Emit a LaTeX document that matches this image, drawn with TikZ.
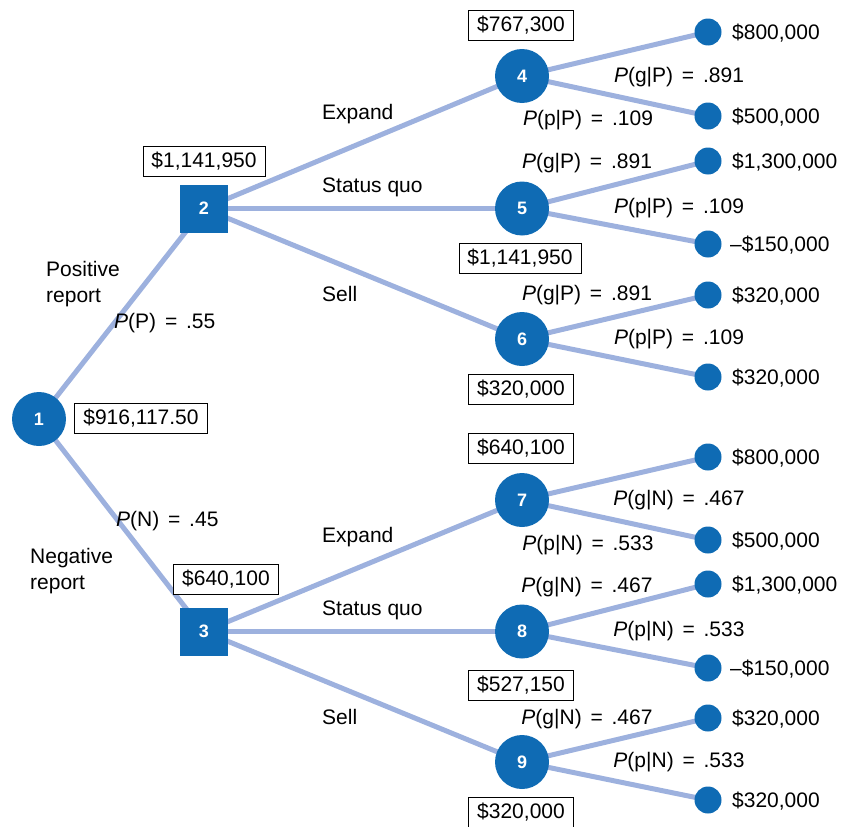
\documentclass[tikz,border=0pt]{standalone}
\usepackage{fontspec}
\setmainfont{Liberation Sans}
\usetikzlibrary{backgrounds}
\definecolor{edgeblue}{HTML}{9DB1DE}
\definecolor{nodeblue}{HTML}{0F6BB4}
\newcommand{\eqsp}{\hspace{0.42em}=\hspace{0.42em}}
\begin{document}
\begin{tikzpicture}[x=1pt,y=-1pt,
  font=\fontsize{21}{26}\selectfont,
  chance/.style={circle, fill=nodeblue, minimum size=54pt, inner sep=0pt, text=white, font=\fontsize{18}{20}\selectfont\bfseries},
  decision/.style={rectangle, fill=nodeblue, minimum size=48pt, inner sep=0pt, text=white, font=\fontsize{18}{20}\selectfont\bfseries},
  leaf/.style={circle, fill=nodeblue, minimum size=27pt, inner sep=0pt},
  valbox/.style={draw=black, line width=0.8pt, fill=white, minimum height=30pt, inner xsep=8.5pt, inner ysep=0pt},
  branch/.style={draw=edgeblue, line width=5pt},
  lbl/.style={inner sep=0pt, anchor=west, yshift=-1.5pt},
  prob/.style={inner sep=0pt, yshift=-1pt}
]
\useasboundingbox (0,0) rectangle (841,827);
% decision / chance nodes
\node[chance] (n1) at (39,419) {1};
\node[decision] (n2) at (204,208.5) {2};
\node[decision] (n3) at (204,631.5) {3};
\node[chance] (n4) at (522,76) {4};
\node[chance] (n5) at (522,208.5) {5};
\node[chance] (n6) at (522,339) {6};
\node[chance] (n7) at (522,500) {7};
\node[chance] (n8) at (522,631.5) {8};
\node[chance] (n9) at (522,762) {9};
% leaves
\node[leaf] (l1) at (708,32) {};
\node[leaf] (l2) at (708,116) {};
\node[leaf] (l3) at (708,161) {};
\node[leaf] (l4) at (708,244) {};
\node[leaf] (l5) at (708,295) {};
\node[leaf] (l6) at (708,377) {};
\node[leaf] (l7) at (708,457) {};
\node[leaf] (l8) at (708,540) {};
\node[leaf] (l9) at (708,584) {};
\node[leaf] (l10) at (708,668) {};
\node[leaf] (l11) at (708,718) {};
\node[leaf] (l12) at (708,800) {};
% branches (behind nodes)
\begin{scope}[on background layer]
\foreach \a/\b in {n1/n2,n1/n3,n2/n4,n2/n5,n2/n6,n3/n7,n3/n8,n3/n9,
  n4/l1,n4/l2,n5/l3,n5/l4,n6/l5,n6/l6,n7/l7,n7/l8,n8/l9,n8/l10,n9/l11,n9/l12}
  {\draw[branch] (\a.center) -- (\b.center);}
\end{scope}
% leaf values
\node[lbl] (v1) at (732,32) {\$800,000};
\node[lbl] (v2) at (732,116) {\$500,000};
\node[lbl] (v3) at (732,161) {\$1,300,000};
\node[lbl] (v4) at (730,244) {–\$150,000};
\node[lbl] (v5) at (732,295) {\$320,000};
\node[lbl] (v6) at (732,377) {\$320,000};
\node[lbl] (v7) at (732,457) {\$800,000};
\node[lbl] (v8) at (732,540) {\$500,000};
\node[lbl] (v9) at (732,584) {\$1,300,000};
\node[lbl] (v10) at (730,668) {–\$150,000};
\node[lbl] (v11) at (732,718) {\$320,000};
\node[lbl] (v12) at (732,800) {\$320,000};
% expected value boxes
\node[valbox] (b1) at (141,418) {\$916,117.50};
\node[valbox] (b2) at (204,161) {\$1,141,950};
\node[valbox] (b3) at (226,579) {\$640,100};
\node[valbox] (b4) at (521,25) {\$767,300};
\node[valbox] (b5) at (520,258) {\$1,141,950};
\node[valbox] (b6) at (521,389) {\$320,000};
\node[valbox] (b7) at (521,448) {\$640,100};
\node[valbox] (b8) at (521,685) {\$527,150};
\node[valbox] (b9) at (521,812) {\$320,000};
% decision labels
\node[lbl] (e1) at (322,113) {Expand};
\node[lbl] (e2) at (322,186) {Status quo};
\node[lbl] (e3) at (322,292) {Sell};
\node[lbl] (e4) at (322,536) {Expand};
\node[lbl] (e5) at (322,609) {Status quo};
\node[lbl] (e6) at (322,715) {Sell};
\node[lbl, align=left] (pr) at (46,283) {Positive\\report};
\node[lbl, align=left] (nr) at (30,570) {Negative\\report};
\node[lbl] (pp) at (114,322) {\textit{P}(P)\eqsp.55};
\node[lbl] (pn) at (116,520) {\textit{P}(N)\eqsp.45};
% conditional probabilities
\node[prob] (q1) at (679,76) {\textit{P}(g|P)\eqsp.891};
\node[prob] (q2) at (588,119) {\textit{P}(p|P)\eqsp.109};
\node[prob] (q3) at (587,162) {\textit{P}(g|P)\eqsp.891};
\node[prob] (q4) at (679,207) {\textit{P}(p|P)\eqsp.109};
\node[prob] (q5) at (587,294) {\textit{P}(g|P)\eqsp.891};
\node[prob] (q6) at (679,338) {\textit{P}(p|P)\eqsp.109};
\node[prob] (q7) at (679,499) {\textit{P}(g|N)\eqsp.467};
\node[prob] (q8) at (588,544) {\textit{P}(p|N)\eqsp.533};
\node[prob] (q9) at (587,586) {\textit{P}(g|N)\eqsp.467};
\node[prob] (q10) at (679,630) {\textit{P}(p|N)\eqsp.533};
\node[prob] (q11) at (587,718) {\textit{P}(g|N)\eqsp.467};
\node[prob] (q12) at (679,761) {\textit{P}(p|N)\eqsp.533};
\end{tikzpicture}
\end{document}
